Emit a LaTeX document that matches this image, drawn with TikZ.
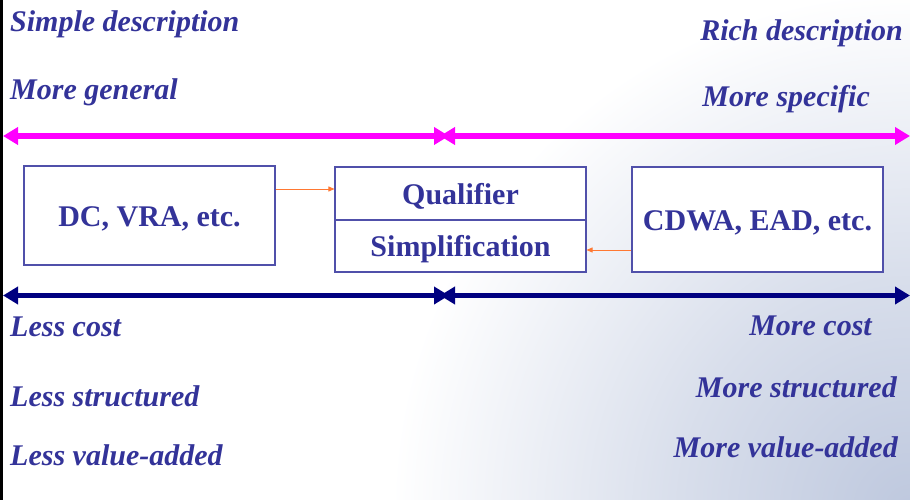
\documentclass[tikz,border=0pt]{standalone}
\usepackage{fontspec}
\setmainfont{Liberation Serif}
\usetikzlibrary{arrows.meta}
\definecolor{txtblue}{RGB}{51,51,153}
\definecolor{boxblue}{RGB}{80,80,170}
\definecolor{navyc}{RGB}{0,0,128}
\definecolor{magc}{RGB}{255,0,255}
\definecolor{orangec}{RGB}{255,120,50}
\definecolor{bgblue}{RGB}{190,200,222}
\pgfdeclareradialshading{bgshade}{\pgfpoint{0bp}{0bp}}{color(0bp)=(bgblue); color(8bp)=(bgblue!60!white); color(18bp)=(white); color(50bp)=(white)}
\tikzset{
  lbl/.style={text=txtblue, font=\fontsize{30}{34}\selectfont\bfseries\itshape, inner sep=0pt},
  lblL/.style={lbl, anchor=base west},
  lblR/.style={lbl, anchor=base east},
  boxn/.style={draw=boxblue, line width=1.1pt, fill=white, text=txtblue,
     font=\fontsize{30}{34}\selectfont\bfseries, minimum width=251pt, inner sep=0pt,
     text height=21pt, text depth=0pt},
  bigarrow/.style={line width=5.5pt, {Triangle[length=15pt,width=17pt]}-{Triangle[length=15pt,width=17pt]}},
  smallarrow/.style={draw=orangec, line width=0.8pt, -{Triangle[length=6pt,width=5pt]}}
}
\begin{document}
\begin{tikzpicture}[x=1pt,y=-1pt]
\useasboundingbox (0,0) rectangle (910,500);
% background
\fill[white] (0,0) rectangle (910,500);
\begin{scope}
\clip (0,0) rectangle (910,500);
\shade[shading=bgshade] (910,510) circle (720);
\end{scope}
% left border line
\draw[line width=3pt, black] (1.5,0) -- (1.5,500);
% labels
\node[lblL] (t1) at (10,32) {Simple description};
\node[lblL] (t2) at (10,100) {More general};
\node[lblR] (t3) at (903,41) {Rich description};
\node[lblR] (t4) at (870,107) {More specific};
\node[lblL] (t5) at (10,336) {Less cost};
\node[lblL] (t6) at (10,406) {Less structured};
\node[lblL] (t7) at (10,465) {Less value-added};
\node[lblR] (t8) at (872,335) {More cost};
\node[lblR] (t9) at (897,397) {More structured};
\node[lblR] (t10) at (898,457) {More value-added};
% arrows
\coordinate (mL) at (3,136);
\coordinate (mC1) at (449,136);
\coordinate (mC2) at (440,136);
\coordinate (mR) at (910,136);
\draw[bigarrow, magc] (mL) -- (mC1);
\draw[bigarrow, magc] (mC2) -- (mR);
\coordinate (nL) at (3,295.5);
\coordinate (nC1) at (449,295.5);
\coordinate (nC2) at (440,295.5);
\coordinate (nR) at (910,295.5);
\draw[bigarrow, navyc] (nL) -- (nC1);
\draw[bigarrow, navyc] (nC2) -- (nR);
% boxes
\node[boxn, minimum height=99pt] (dc) at (149.5,215.5) {DC, VRA, etc.};
\node[boxn, minimum height=53pt] (qual) at (460.5,193.5) {Qualifier};
\node[boxn, minimum height=52pt] (simp) at (460.5,246) {Simplification};
\node[boxn, minimum height=105pt] (cdwa) at (757.5,219.5) {CDWA, EAD, etc.};
% connectors
\coordinate (a1) at (dc.east |- 0,189);
\coordinate (a2) at (qual.west |- 0,189);
\draw[smallarrow] (a1) -- (a2);
\coordinate (b1) at (cdwa.west |- 0,250);
\coordinate (b2) at (simp.east |- 0,250);
\draw[smallarrow] (b1) -- (b2);
\end{tikzpicture}
\end{document}
